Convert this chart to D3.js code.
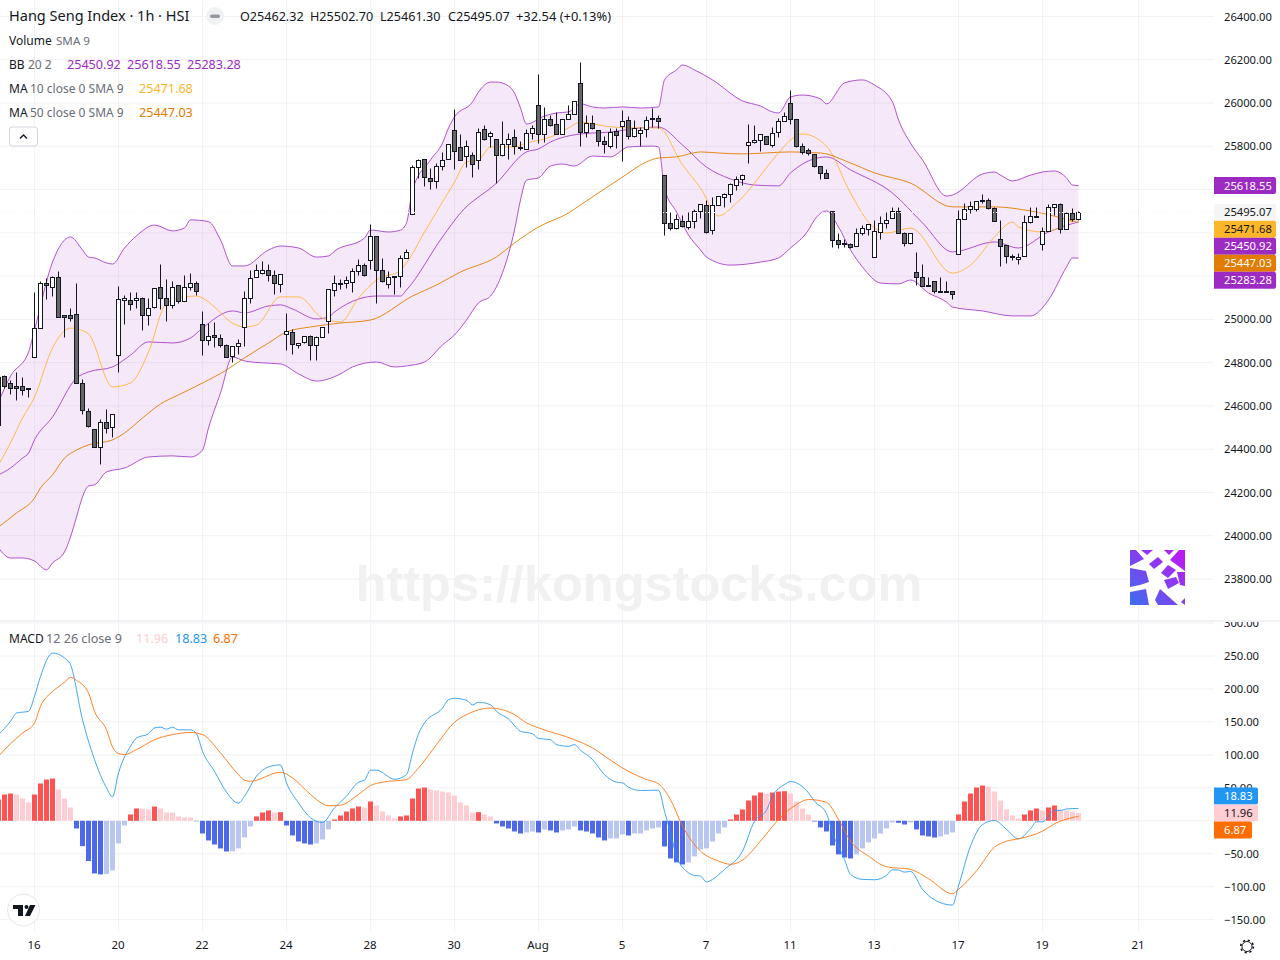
<!DOCTYPE html>
<html>
<head>
<meta charset="utf-8">
<script src="https://d3js.org/d3.v7.min.js"></script>
<style>
html, body { margin: 0; padding: 0; background: #fff; overflow: hidden; }
text { font-family: "Noto Sans", sans-serif; }
</style>
</head>
<body>
<script>
// candles, bar 0 is the one cut off at the left edge
var opens = [
  24512,24739,24705,24691,24691,24683,24825,24959,25167,25148,
  25195,25019,25019,25023,24705,24575,24492,24412,24524,24501,
  24834,25088,25088,25091,25097,25019,25056,25148,25097,25065,
  25158,25084,25148,25167,24977,24903,24926,24913,24880,24829,
  24875,24963,25097,25195,25216,25227,25204,25162,24931,24940,
  24880,24894,24922,24880,24917,24991,25137,25162,25167,25174,
  25222,25250,25273,25384,25227,25162,25199,25199,25282,25486,
  25703,25740,25652,25638,25707,25740,25874,25795,25754,25758,
  25735,25878,25846,25832,25758,25809,25842,25795,25786,25860,
  25989,25855,25925,25902,25855,25925,25948,26091,25865,25906,
  25874,25823,25800,25869,25892,25920,25846,25860,25878,25929,
  25929,25667,25444,25421,25453,25425,25453,25499,25527,25411,
  25527,25564,25578,25620,25647,25804,25818,25828,25846,25804,
  25865,25915,25999,25925,25800,25781,25763,25707,25675,25499,
  25365,25351,25347,25337,25398,25416,25287,25402,25444,25467,
  25499,25398,25351,25217,25194,25157,25176,25128,25128,25130,
  25301,25462,25509,25509,25550,25550,25513,25370,25342,25291,
  25278,25291,25449,25476,25347,25407,25518,25532,25416,25490,25462.32];
var highs = [
  24745,24743,24720,24757,24732,24685,25127,25176,25190,25201,
  25224,25019,25051,25168,24723,24589,24492,24538,24584,24561,
  25154,25111,25127,25127,25102,25097,25144,25256,25185,25178,
  25158,25205,25215,25176,25039,24983,24990,24931,24885,24875,
  24908,25131,25227,25254,25268,25254,25227,25208,25030,24954,
  24889,24925,24928,24923,24963,25139,25205,25188,25201,25236,
  25278,25259,25441,25384,25282,25222,25199,25296,25324,25712,
  25743,25740,25698,25721,25772,25809,25971,25855,25828,25772,
  25883,25897,25869,25832,25915,25860,25878,25823,25878,25897,
  26134,25980,25943,25957,25925,25989,26008,26188,25943,25943,
  25874,25846,25883,25883,25968,25939,25920,25888,25939,25976,
  25945,25667,25495,25486,25481,25495,25509,25532,25550,25564,
  25569,25583,25629,25661,25670,25902,25897,25855,25846,25888,
  25929,25957,26059,25925,25814,25791,25763,25707,25693,25499,
  25398,25370,25351,25421,25435,25439,25458,25476,25495,25518,
  25518,25402,25398,25310,25254,25198,25176,25194,25176,25130,
  25504,25536,25546,25546,25578,25560,25518,25458,25342,25301,
  25305,25481,25518,25518,25425,25532,25532,25536,25495,25513,25502.70];
var lows = [
  24512,24685,24655,24628,24651,24643,24825,24959,25096,25108,
  25013,24920,24993,24705,24563,24504,24412,24332,24473,24455,
  24758,24979,25043,25053,24951,24974,25051,25048,24994,25054,
  25076,25084,25136,25113,24835,24882,24874,24874,24825,24801,
  24840,24877,25076,25195,25208,25178,25117,25127,24859,24840,
  24868,24891,24812,24812,24917,24939,25110,25142,25145,25127,
  25207,25201,25231,25074,25171,25147,25117,25151,25282,25486,
  25652,25617,25603,25607,25691,25740,25697,25735,25703,25660,
  25697,25828,25795,25629,25754,25741,25763,25781,25786,25832,
  25814,25821,25892,25855,25855,25925,25948,25801,25842,25878,
  25801,25771,25791,25794,25734,25832,25842,25800,25842,25888,
  25883,25390,25413,25416,25425,25416,25421,25467,25401,25396,
  25527,25521,25541,25596,25620,25724,25814,25780,25809,25795,
  25841,25915,25902,25795,25763,25758,25704,25650,25652,25333,
  25328,25333,25328,25337,25388,25388,25287,25370,25421,25467,
  25398,25337,25347,25159,25153,25153,25120,25128,25128,25093,
  25301,25462,25490,25499,25536,25509,25453,25245,25259,25273,
  25254,25291,25444,25472,25319,25407,25481,25401,25416,25453,25461.30];
var closes = [
  24735,24694,24685,24685,24675,24680,24959,25167,25158,25195,
  25013,25013,25008,24705,24580,24509,24412,24524,24497,24561,
  25093,25097,25070,25097,25019,25051,25144,25097,25065,25148,
  25084,25148,25167,25130,24903,24922,24920,24883,24825,24875,
  24889,25097,25190,25227,25227,25204,25167,25208,24945,24885,
  24889,24922,24880,24917,24963,25139,25167,25167,25181,25222,
  25250,25207,25384,25227,25176,25194,25196,25282,25310,25703,
  25735,25657,25638,25707,25735,25809,25777,25735,25800,25717,
  25865,25832,25860,25758,25809,25832,25800,25791,25860,25883,
  25855,25925,25897,25855,25925,25948,26008,25865,25906,25883,
  25823,25809,25865,25851,25915,25846,25883,25874,25920,25925,
  25915,25444,25421,25462,25430,25453,25499,25532,25405,25527,
  25569,25578,25624,25647,25666,25818,25828,25855,25809,25860,
  25915,25939,25925,25800,25772,25768,25707,25675,25652,25365,
  25347,25347,25333,25398,25421,25439,25407,25444,25458,25499,
  25398,25351,25398,25194,25153,25153,25130,25131,25131,25116,
  25462,25509,25523,25546,25546,25513,25453,25337,25291,25287,
  25287,25449,25476,25472,25407,25518,25532,25416,25490,25462,25495.07];

// indicator lines, read at the bars where they bend
var upperBars = [0,2,5,6,9,12,14,15,16,18,19,21,23,26,29,31,32,35,37,39,41,45,47,50,53,55,56,61,62,65,67,68,69,72,74,75,76,79,80,82,83,85,86,87,88,91,93,95,97,99,101,104,107,110,111,113,114,116,119,124,127,129,130,132,134,137,138,141,144,146,149,150,152,154,158,159,164,166,167,169,172,174,176,178,179,180];
var upperVals = [24618,24738,24849,24951,25265,25381,25321,25288,25284,25261,25256,25330,25386,25436,25409,25423,25460,25452,25367,25247,25247,25321,25339,25330,25288,25293,25316,25376,25413,25404,25413,25446,25598,25737,25815,25885,25936,26005,26051,26097,26097,26079,26046,25977,25903,25940,25954,25959,25996,25982,25977,25982,25977,25982,26107,26153,26176,26153,26107,26010,25986,25959,25954,26028,26037,26019,25996,26093,26107,26083,26005,25922,25815,25737,25570,25575,25672,25681,25667,25640,25667,25681,25686,25654,25621,25618.55];
var basisBars = [0,2,4,5,6,9,13,15,19,22,25,29,32,34,39,41,45,47,49,53,55,56,60,63,67,68,74,77,83,88,90,92,97,102,107,110,114,118,122,126,130,132,138,142,149,154,159,166,170,175,180];
var basisVals = [24281,24313,24359,24382,24443,24549,24729,24757,24780,24835,24896,24891,24914,24960,25039,25030,25062,25067,25048,25002,25011,25034,25094,25108,25108,25136,25381,25492,25630,25774,25788,25820,25857,25866,25885,25889,25806,25704,25649,25621,25617,25677,25751,25691,25584,25446,25312,25358,25330,25404,25450.92];
var lowerBars = [0,2,4,6,8,9,11,12,13,14,15,16,18,21,25,29,32,34,35,37,39,41,44,47,50,53,57,59,63,66,68,71,74,76,78,80,82,84,86,87,88,90,92,94,96,99,102,105,109,110,111,113,115,117,118,122,127,130,132,135,136,138,140,142,144,147,150,152,155,158,159,164,169,172,175,178,179,180];
var lowerVals = [23943,23897,23897,23883,23842,23874,23925,23994,24087,24179,24230,24235,24295,24313,24364,24369,24364,24396,24498,24660,24826,24808,24799,24794,24748,24715,24748,24780,24803,24780,24785,24803,24882,24928,24997,25076,25108,25215,25413,25552,25644,25654,25709,25718,25709,25755,25751,25797,25801,25797,25607,25496,25390,25321,25288,25251,25265,25284,25330,25413,25460,25501,25427,25321,25242,25168,25164,25182,25122,25080,25057,25039,25016,25016,25090,25242,25284,25283.28];
var ma10Bars = [0,2,4,6,9,12,13,15,19,22,25,28,31,33,34,36,39,41,43,47,50,54,57,60,63,67,68,71,76,78,80,82,86,88,92,95,97,101,105,110,114,117,120,123,130,132,134,138,142,145,148,152,159,162,166,169,170,174,180];
var ma10Vals = [24327,24429,24544,24641,24868,24960,24956,24933,24688,24706,24849,25076,25104,25108,25099,25057,24983,24965,24974,25104,25104,25006,24988,25099,25182,25228,25261,25404,25635,25728,25737,25797,25797,25815,25843,25885,25912,25894,25885,25885,25714,25607,25478,25538,25769,25829,25857,25801,25584,25450,25399,25422,25214,25251,25381,25450,25427,25404,25471.68];
var ma50Bars = [0,3,6,7,9,11,13,15,19,21,24,27,30,34,38,41,45,48,52,57,62,69,73,77,83,86,90,95,97,104,108,110,113,117,120,124,132,137,142,146,152,159,166,172,180];
var ma50Vals = [24040,24105,24174,24221,24281,24359,24396,24420,24443,24475,24544,24609,24651,24706,24766,24822,24891,24942,24965,24983,24997,25108,25159,25219,25289,25353,25427,25492,25529,25658,25728,25746,25751,25774,25769,25765,25774,25769,25723,25677,25630,25520,25520,25501,25447.03];

var macdHist = [
  32.3,39.9,41.4,39.8,33.8,27.8,39.9,56.6,62.6,64.1,
  47.5,33.8,20.2,-11.6,-38.4,-61.1,-79.8,-81.3,-80.8,-75.2,
  -34.3,-7.1,9.6,18.7,18.4,17.2,21.7,18.7,12.6,12.5,
  6.6,5.1,5.0,-0.6,-19.2,-29.8,-35.9,-41.9,-46.5,-46.2,
  -41.9,-25.3,-8.6,6.6,12.6,15.7,12.6,13.1,-7.1,-22.2,
  -31.3,-34.3,-35.9,-34.3,-28.3,-13.1,2.0,8.1,14.1,18.7,
  21.7,20.2,29.3,23.2,14.1,8.1,3.5,6.6,8.1,33.8,
  49.0,50.5,47.5,46.0,44.4,42.9,38.4,27.8,23.2,12.6,
  13.1,9.6,6.6,-4.0,-8.6,-11.6,-16.2,-19.2,-17.7,-16.2,
  -17.7,-13.1,-14.6,-17.7,-14.6,-13.1,-8.6,-14.6,-16.2,-19.2,
  -25.3,-29.8,-26.8,-26.7,-20.7,-22.2,-19.2,-19.1,-14.6,-11.6,
  -10.1,-38.9,-57.1,-63.1,-66.2,-63.1,-54.0,-43.4,-41.9,-31.3,
  -19.2,-10.1,2.0,9.6,17.2,30.8,38.4,42.9,41.4,42.9,
  44.4,44.9,41.4,29.3,18.7,9.6,-1.0,-10.1,-16.2,-37.4,
  -51.0,-55.6,-57.1,-51.0,-41.9,-32.8,-26.8,-19.2,-11.6,-2.5,
  -3.0,-5.6,-2.5,-13.1,-22.2,-23.7,-25.3,-23.7,-20.7,-17.7,
  9.6,29.3,41.4,50.5,53.5,52.0,44.4,30.8,17.2,8.1,
  3.5,9.6,15.7,18.7,15.7,20.2,23.2,17.2,15.7,14.1,11.96];
var macdBars = [0,2,3,5,6,7,9,11,12,14,16,18,19,20,22,23,25,26,27,28,29,30,32,33,34,36,38,40,41,43,45,47,48,50,52,54,56,58,60,61,62,63,66,68,69,70,71,74,75,76,78,79,80,82,83,85,87,89,90,92,93,95,96,97,99,101,103,104,105,107,110,111,112,113,115,116,117,118,119,121,124,126,128,129,131,132,135,136,138,139,141,142,144,146,148,149,150,151,152,154,156,159,160,162,164,166,168,170,172,173,174,176,177,178,180];
var macdVals = [130.8,151,163.6,166,188.9,219,254.5,247,236.8,153.5,92.9,50,36.4,72.7,113,125.7,132,141,142,139,142,138,138,132,105.5,75,43.4,26.8,37.4,67.7,81.8,84.8,57.6,27.3,4.5,-2.5,19.7,37.4,58.6,61.6,76.8,76.8,63,70,103,132,148.5,171,183.8,185.8,182.8,176,179.8,176,166,154.5,135.8,132,125,123,115.6,113,115.6,107,93,70,58.6,57.6,51,46,46.5,14.6,-18.2,-53.5,-78.8,-82.8,-83.8,-92.9,-88.9,-73.7,-46,-0.5,16,37.4,55,59.6,42.4,29.8,11,-18,-58.6,-81.3,-88.9,-89.4,-82.8,-74.2,-74.7,-77.8,-76.8,-104,-120,-127.8,-99,-38.4,-5.6,0.5,-13,-27.3,-12,-1.5,-1.5,16,15.7,18,18.83];
var signalBars = [0,2,4,6,7,9,11,12,13,15,16,18,19,20,21,23,26,29,32,34,37,40,41,42,47,49,52,54,55,57,60,62,64,68,70,73,76,78,82,86,88,90,96,99,102,105,108,110,112,114,117,120,122,124,127,130,133,135,138,140,142,145,148,152,155,159,160,163,166,168,170,174,176,180];
var signalVals = [98,117,133,148.5,173.7,196,210,217.7,213,194,166,138,112,102,100.5,108,123,130.8,134,130.8,103,70,61.6,60,73.7,65,40,26,22.7,23.7,40,53.5,58.6,62.6,80,115.6,149.5,161,171,161,148.5,141,123,110.6,92,75,62.6,56,32,-8,-46,-61,-66,-59.6,-30.8,2,24.7,32.3,28,2,-30.8,-53.5,-69.7,-73.7,-87.9,-110.6,-104,-76,-40,-31,-27.3,-15.7,-4.5,6.87];

// axis ticks
var priceTicks = [26400,26200,26000,25800,25600,25400,25200,25000,24800,24600,24400,24200,24000,23800];
var priceLabelled = [26400,26200,26000,25800,25000,24800,24600,24400,24200,24000,23800];
var macdTicks = [300,250,200,150,100,50,0,-50,-100,-150];
var macdLabelled = [300,250,200,150,100,50,-50,-100,-150];
var timeBars = [6,20,34,48,62,76,90,104,118,132,146,160,174,190];
var timeLabels = ["16","20","22","24","28","30","Aug","5","7","11","13","17","19","21"];

var width = 1280, height = 960;
var gridColor = "#f2f2f4", textColor = "#131722", mutedColor = "#6a6d78";
var purple = "#9c2bc4", purpleLabel = "#9c2bc4", ma10Color = "#ffb22e", ma50Color = "#e27c00";

var svg = d3.select("body").append("svg")
    .attr("width", width)
    .attr("height", height)
    .style("display", "block");

var x = d3.scaleLinear().domain([0, 190]).range([-1.5, 1138.5]);
var y = d3.scaleLinear().domain([23800, 26400]).range([579, 16.5]);
var yMacd = d3.scaleLinear().domain([-150, 250]).range([919.7, 656]);

var defs = svg.append("defs");
defs.append("clipPath").attr("id", "topPane")
    .append("rect").attr("width", 1214).attr("height", 620);
defs.append("clipPath").attr("id", "macdPane")
    .append("rect").attr("y", 622).attr("width", 1214).attr("height", 309);
defs.append("clipPath").attr("id", "macdAxis")
    .append("rect").attr("x", 1214).attr("y", 622).attr("width", 66).attr("height", 309);
var logoGrad = defs.append("linearGradient").attr("id", "logoGrad")
    .attr("gradientUnits", "userSpaceOnUse")
    .attr("x1", 0).attr("y1", 55).attr("x2", 55).attr("y2", 0);
logoGrad.append("stop").attr("offset", "0%").attr("stop-color", "#3b6ff0");
logoGrad.append("stop").attr("offset", "100%").attr("stop-color", "#c414f0");

// grid
var grid = svg.append("g");
grid.selectAll(".hp").data(priceTicks).enter().append("line")
    .attr("x1", 0).attr("x2", 1214)
    .attr("y1", function (d) { return y(d); })
    .attr("y2", function (d) { return y(d); });
grid.selectAll(".hm").data(macdTicks).enter().append("line")
    .attr("x1", 0).attr("x2", 1214)
    .attr("y1", function (d) { return yMacd(d); })
    .attr("y2", function (d) { return yMacd(d); });
grid.selectAll(".vt").data(timeBars).enter().append("line")
    .attr("x1", function (d) { return x(d); })
    .attr("x2", function (d) { return x(d); })
    .attr("y1", 0).attr("y2", 620);
grid.selectAll(".vm").data(timeBars).enter().append("line")
    .attr("x1", function (d) { return x(d); })
    .attr("x2", function (d) { return x(d); })
    .attr("y1", 622).attr("y2", 931);
grid.selectAll("line").attr("stroke", gridColor).attr("stroke-width", 1);

// watermark
svg.append("text")
    .attr("x", 639).attr("y", 601)
    .attr("text-anchor", "middle")
    .style("font-family", "'Liberation Sans', sans-serif")
    .style("font-weight", "bold")
    .style("font-size", "50.5px")
    .attr("fill", "#f1f1f1")
    .text("https://kongstocks.com");

var topPane = svg.append("g").attr("clip-path", "url(#topPane)");

function zipLine(bars, vals) {
    return bars.map(function (b, i) { return [b, vals[i]]; });
}

var priceLine = d3.line()
    .curve(d3.curveMonotoneX)
    .x(function (d) { return x(d[0]); })
    .y(function (d) { return y(d[1]); });

// bollinger band fill: upper line out, lower line back
topPane.append("path")
    .attr("d", priceLine(zipLine(upperBars, upperVals)) + "L" + priceLine(zipLine(lowerBars, lowerVals).reverse()).slice(1) + "Z")
    .attr("fill", purple)
    .attr("fill-opacity", 0.1);

[[upperBars, upperVals, purple, 0.8], [lowerBars, lowerVals, purple, 0.8], [basisBars, basisVals, purple, 0.8],
 [ma10Bars, ma10Vals, ma10Color, 0.85], [ma50Bars, ma50Vals, ma50Color, 0.9]].forEach(function (s) {
    topPane.append("path")
        .attr("d", priceLine(zipLine(s[0], s[1])))
        .attr("fill", "none")
        .attr("stroke", s[2])
        .attr("stroke-opacity", s[3])
        .attr("stroke-width", 1);
});

// candles, snapped to whole pixels
function snap(v) { return Math.round(v) + 0.5; }
var candle = topPane.selectAll(".candle").data(d3.range(opens.length)).enter().append("g");
candle.append("line")
    .attr("x1", function (i) { return x(i); })
    .attr("x2", function (i) { return x(i); })
    .attr("y1", function (i) { return snap(y(highs[i])); })
    .attr("y2", function (i) { return snap(y(lows[i])); })
    .attr("stroke", textColor)
    .attr("stroke-width", 1);
candle.append("rect")
    .attr("x", function (i) { return x(i) - 2; })
    .attr("width", 4)
    .attr("y", function (i) { return snap(y(Math.max(opens[i], closes[i]))); })
    .attr("height", function (i) { return snap(y(Math.min(opens[i], closes[i]))) - snap(y(Math.max(opens[i], closes[i]))); })
    .attr("fill", function (i) { return closes[i] >= opens[i] ? "#ffffff" : "#666666"; })
    .attr("stroke", textColor)
    .attr("stroke-width", 1);

// last price dotted line
topPane.append("line")
    .attr("x1", 0).attr("x2", 1214)
    .attr("y1", snap(y(closes[closes.length - 1])))
    .attr("y2", snap(y(closes[closes.length - 1])))
    .attr("stroke", "#f4f4f6")
    .attr("stroke-dasharray", "1,2");

// logo, coloured patches left over on a white tile
var logo = svg.append("g").attr("transform", "translate(1130,550)");
logo.append("rect").attr("width", 55).attr("height", 55).attr("fill", "#fff");
["M0 0L6 0L14 9L0 16Z", "M11 0L23 0L17 5Z", "M34 0L44 0L39 5Z", "M49 0L55 0L55 21L40 10Z",
 "M19 14L28 7L33 12L24 19Z", "M31 23L38 15L46 20L38 28Z", "M0 18L16 21L19 32L10 35L0 37Z",
 "M34 30L46 27L49 33L38 39Z", "M0 42L16 39L19 55L0 55Z", "M25 50L30 39L48 55L28 55Z",
 "M47 22L55 22L55 36L50 35Z", "M51 52L55 48L55 55Z"].forEach(function (p) {
    logo.append("path").attr("d", p).attr("fill", "url(#logoGrad)");
});

// pane separator
svg.append("line")
    .attr("x1", 0).attr("x2", 1280)
    .attr("y1", 621).attr("y2", 621)
    .attr("stroke", "#e0e3eb");

// macd
var macdPane = svg.append("g").attr("clip-path", "url(#macdPane)");
macdPane.selectAll(".hist").data(macdHist).enter().append("rect")
    .attr("x", function (d, i) { return x(i) - 2.5; })
    .attr("width", 5)
    .attr("y", function (d) { return Math.min(yMacd(d), yMacd(0)); })
    .attr("height", function (d) { return Math.abs(yMacd(d) - yMacd(0)); })
    .attr("fill", function (d, i) {
        var prev = i > 0 ? macdHist[i - 1] : d - 1;
        if (d >= 0) return d > prev ? "#ff5252" : "#ffcdd2";
        return d < prev ? "#4d68eb" : "#bac6f2";
    });

var macdLine = d3.line()
    .curve(d3.curveMonotoneX)
    .x(function (d) { return x(d[0]); })
    .y(function (d) { return yMacd(d[1]); });
macdPane.append("path")
    .attr("d", macdLine(zipLine(macdBars, macdVals)))
    .attr("fill", "none")
    .attr("stroke", "#2196f3")
    .attr("stroke-opacity", 0.85)
    .attr("stroke-width", 1);
macdPane.append("path")
    .attr("d", macdLine(zipLine(signalBars, signalVals)))
    .attr("fill", "none")
    .attr("stroke", "#ff6d00")
    .attr("stroke-opacity", 0.85)
    .attr("stroke-width", 1);

// axes
function styleAxis(g, size) {
    g.select(".domain").remove();
    g.selectAll(".tick line").remove();
    g.selectAll("text")
        .attr("fill", textColor)
        .style("font-family", '"Noto Sans", sans-serif')
        .style("font-size", size + "px");
}
svg.append("g")
    .attr("transform", "translate(1224,0)")
    .call(d3.axisRight(y).tickValues(priceLabelled).tickSize(0).tickPadding(0).tickFormat(d3.format(".2f")))
    .call(styleAxis, 11.2);
svg.append("g")
    .attr("clip-path", "url(#macdAxis)")
    .append("g")
    .attr("transform", "translate(1224,0)")
    .call(d3.axisRight(yMacd).tickValues(macdLabelled).tickSize(0).tickPadding(0).tickFormat(function (d) { return d3.format(".2f")(d).replace("-", "\u2212"); }))
    .call(styleAxis, 11.2);
svg.append("g")
    .attr("transform", "translate(-1,932)")
    .call(d3.axisBottom(x).tickValues(timeBars).tickSize(0).tickPadding(9).tickFormat(function (d, i) { return timeLabels[i]; }))
    .call(styleAxis, 11.5);

// price labels at the axis, stacked so they do not overlap
function tag(left, center, w, bg, fg, label) {
    svg.append("path")
        .attr("d", "M" + left + " " + (center - 8.5) + "h" + (w - 2) + "q2 0 2 2v13q0 2 -2 2h" + (2 - w) + "z")
        .attr("fill", bg);
    svg.append("text")
        .attr("x", left + 10).attr("y", center + 4)
        .attr("fill", fg)
        .style("font-size", "11.2px")
        .text(label);
}
var priceTags = [
    {v: upperVals[upperVals.length - 1], bg: purpleLabel, fg: "#fff"},
    {v: closes[closes.length - 1], bg: "#f5f5f6", fg: textColor},
    {v: ma10Vals[ma10Vals.length - 1], bg: "#fdb52a", fg: textColor},
    {v: basisVals[basisVals.length - 1], bg: purpleLabel, fg: "#fff"},
    {v: ma50Vals[ma50Vals.length - 1], bg: ma50Color, fg: "#fff"},
    {v: lowerVals[lowerVals.length - 1], bg: purpleLabel, fg: "#fff"}
];
var lastCenter = -100;
priceTags.forEach(function (t) {
    var c = Math.max(y(t.v), lastCenter + 17);
    lastCenter = c;
    tag(1214, c, 62, t.bg, t.fg, d3.format(".2f")(t.v));
});
var macdCenter = yMacd(macdHist[macdHist.length - 1]);
tag(1214, macdCenter - 17, 44, "#2196f3", "#fff", d3.format(".2f")(macdVals[macdVals.length - 1]));
tag(1214, macdCenter, 44, "#ffcdd2", textColor, d3.format(".2f")(macdHist[macdHist.length - 1]));
tag(1214, macdCenter + 17, 38, "#ff6d00", "#fff", d3.format(".2f")(signalVals[signalVals.length - 1]));

// legend
function legend(px, py, str, color, size) {
    svg.append("text")
        .attr("x", px).attr("y", py)
        .attr("fill", color)
        .style("font-size", (size || 12) + "px")
        .text(str);
}
legend(9, 21, "Hang Seng Index \u00b7 1h \u00b7 HSI", textColor, 14.5);
svg.append("circle").attr("cx", 215).attr("cy", 16).attr("r", 9).attr("fill", "#f0f1f3");
svg.append("rect").attr("x", 210).attr("y", 14.5).attr("width", 10).attr("height", 3.5).attr("rx", 1.7).attr("fill", "#9598a1");
legend(240, 21, "O25462.32", textColor, 12.6);
legend(310, 21, "H25502.70", textColor, 12.6);
legend(380, 21, "L25461.30", textColor, 12.6);
legend(448, 21, "C25495.07", textColor, 12.6);
legend(516, 21, "+32.54 (+0.13%)", textColor, 12.9);
legend(9, 45, "Volume", textColor);
legend(56, 45, "SMA 9", mutedColor, 11.6);
legend(9, 69, "BB", textColor);
legend(28, 69, "20 2", mutedColor);
legend(67, 69, "25450.92", purpleLabel, 12.6);
legend(127, 69, "25618.55", purpleLabel, 12.6);
legend(187, 69, "25283.28", purpleLabel, 12.6);
legend(9, 93, "MA", textColor);
legend(30, 93, "10 close 0 SMA 9", mutedColor);
legend(139, 93, "25471.68", "#fdb52a", 12.6);
legend(9, 117, "MA", textColor);
legend(30, 117, "50 close 0 SMA 9", mutedColor);
legend(139, 117, "25447.03", ma50Color, 12.6);
svg.append("rect").attr("x", 9.5).attr("y", 127).attr("width", 28).attr("height", 19).attr("rx", 3)
    .attr("fill", "#fff").attr("stroke", "#d1d4dc");
svg.append("path").attr("d", "M20 138.5l3.5 -3.5l3.5 3.5").attr("fill", "none").attr("stroke", textColor).attr("stroke-width", 1.3);

legend(9, 643, "MACD", textColor);
legend(46, 643, "12 26 close 9", mutedColor, 12.6);
legend(136, 643, "11.96", "#ffcdd2", 12.6);
legend(175, 643, "18.83", "#2196f3", 12.6);
legend(213, 643, "6.87", "#ff6d00", 12.6);

// tradingview badge
svg.append("circle").attr("cx", 23.5).attr("cy", 910).attr("r", 16).attr("fill", "#fff").attr("stroke", "#e6e7ea");
svg.append("path").attr("d", "M13 905H23V916H18V909H13Z").attr("fill", textColor);
svg.append("circle").attr("cx", 26.5).attr("cy", 907).attr("r", 2).attr("fill", textColor);
svg.append("path").attr("d", "M30 905H35.5L30 916H25Z").attr("fill", textColor);

// settings gear
svg.append("circle").attr("cx", 1247).attr("cy", 946.5).attr("r", 5).attr("fill", "none").attr("stroke", textColor).attr("stroke-width", 1);
svg.append("circle").attr("cx", 1247).attr("cy", 946.5).attr("r", 6.3).attr("fill", "none").attr("stroke", textColor).attr("stroke-width", 1.6).attr("stroke-dasharray", "2.2,2.75");
</script>
</body>
</html>
